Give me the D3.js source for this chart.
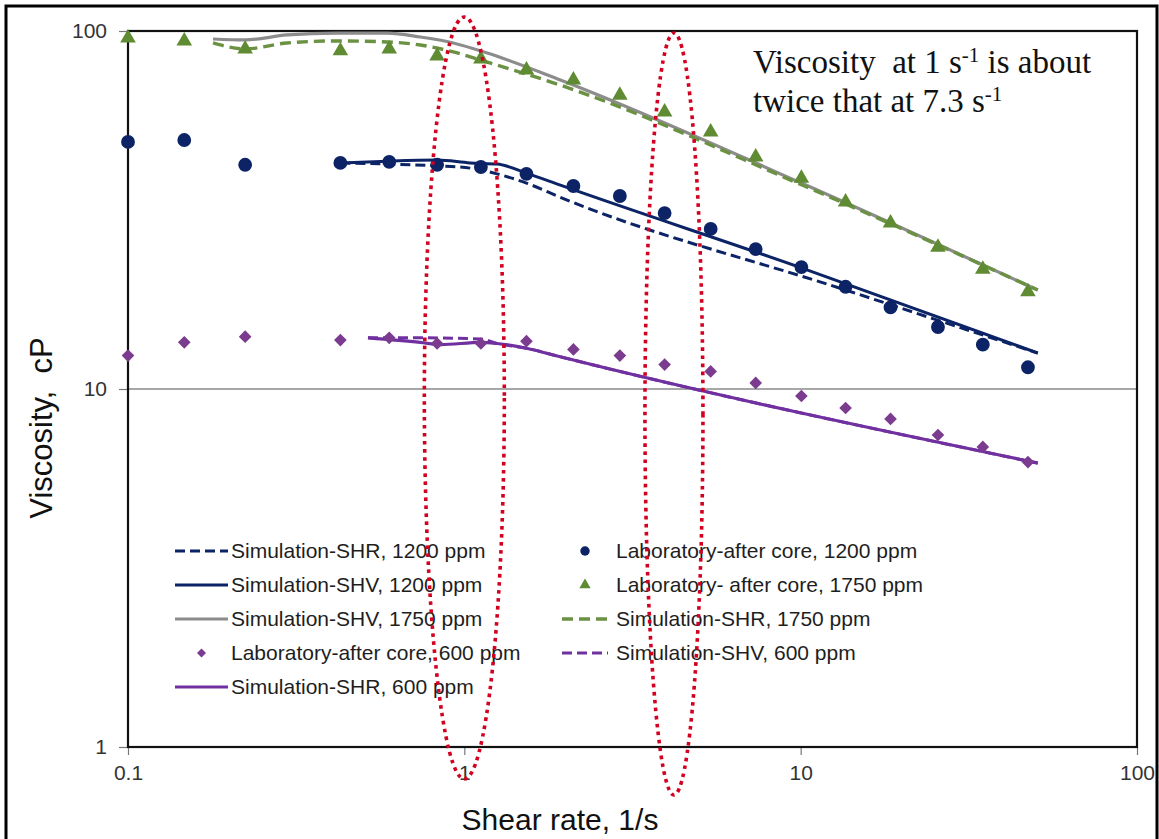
<!DOCTYPE html>
<html><head><meta charset="utf-8">
<script src="https://cdn.jsdelivr.net/npm/d3@7"></script>
<style>
html,body{margin:0;padding:0;background:#fff;}
svg{display:block;}
text.pre{white-space:pre;}
</style></head><body>
<svg id="chart" width="1159" height="839"></svg>
<script>
// ---- Laboratory measurements (after core), shear rate in 1/s, viscosity in cP ----
const labShearRate = [0.1, 0.147, 0.223, 0.428, 0.598, 0.83, 1.12, 1.53, 2.11, 2.9, 3.94, 5.4, 7.35, 10.05, 13.6, 18.5, 25.6, 34.8, 47.4];
const lab1200 = [49.0, 49.6, 42.3, 42.8, 43.1, 42.3, 41.7, 39.9, 36.9, 34.6, 31.0, 28.0, 24.6, 21.9, 19.3, 16.9, 14.9, 13.3, 11.5];
const lab1750 = [95.6, 93.8, 89.1, 88.0, 89.1, 85.1, 83.5, 77.8, 73.0, 66.2, 59.4, 52.2, 44.5, 38.8, 33.3, 29.1, 24.9, 21.6, 18.7];
const lab600  = [12.4, 13.5, 14.0, 13.7, 13.9, 13.4, 13.4, 13.6, 12.9, 12.4, 11.7, 11.2, 10.4, 9.56, 8.85, 8.25, 7.44, 6.89, 6.25];

// ---- Simulated viscosity curves ----
const sim1750Rate = [0.179, 0.223, 0.297, 0.419, 0.59, 0.74, 0.927, 1.17, 1.93, 10.05, 50.7];
const shv1750 = [95.0, 94.4, 97.5, 98.7, 98.7, 96.2, 92.6, 86.8, 73.0, 37.6, 18.9];
const shr1750 = [92.6, 89.1, 92.6, 93.8, 93.2, 91.4, 87.4, 81.9, 70.6, 37.2, 18.9];

const shv1200Rate = [0.428, 0.59, 0.832, 1.04, 1.25, 1.53, 1.93, 10.05, 50.7];
const shv1200 = [42.8, 43.3, 43.6, 42.8, 42.5, 40.1, 37.1, 21.8, 12.6];
const shr1200Rate = [0.428, 0.59, 0.832, 1.04, 1.25, 1.53, 1.93, 13.6, 50.7];
const shr1200 = [42.8, 42.5, 42.0, 41.4, 39.9, 37.6, 34.3, 18.9, 12.6];

const shr600Rate = [0.517, 0.74, 0.85, 1.12, 1.25, 1.53, 1.93, 50.7];
const shr600 = [13.9, 13.5, 13.3, 13.5, 13.4, 13.0, 12.3, 6.21];
const shv600Rate = [0.517, 0.74, 1.12, 1.25, 1.53, 1.93, 50.7];
const shv600 = [13.9, 13.9, 13.8, 13.4, 13.0, 12.3, 6.21];

// ---- Axis ticks ----
const xTicks = [0.1, 1, 10, 100];
const yTicks = [1, 10, 100];
const xTickLabels = ["0.1", "1", "10", "100"];
const yTickLabels = ["1", "10", "100"];

// Shear rates highlighted with dotted ellipses
const highlightRates = [1.0, 4.2];

// ---- Layout ----
const W = 1159, H = 839;
const plot = {left: 128, right: 1137, top: 31, bottom: 747};
const svg = d3.select("#chart");
const SANS = "'Liberation Sans', Arial, sans-serif";
const SERIF = "'Liberation Serif', 'Times New Roman', serif";

const x = d3.scaleLog().domain([0.1, 100]).range([plot.left, plot.right]);
const y = d3.scaleLog().domain([1, 100]).range([plot.bottom, plot.top]);

const C = {
  navy: "#0c2466",
  green: "#5f8b32",
  greenDash: "#6b9142",
  gray: "#8c8c8c",
  purple: "#7030a0",
  diamond: "#7b3b8f",
  red: "#d3001f"
};

// outer frame
svg.append("path")
  .attr("d", `M6,${H} L6,6 L1157,6 L1157,${H}`)
  .attr("fill", "none").attr("stroke", "#000").attr("stroke-width", 3);

// gridline at 10 cP
svg.append("g").selectAll("line").data(yTicks.filter(v => v !== 1 && v !== 100)).join("line")
  .attr("x1", plot.left).attr("x2", plot.right)
  .attr("y1", d => y(d)).attr("y2", d => y(d))
  .attr("stroke", "#8a8a8a").attr("stroke-width", 1.5);

// axes
const xAxis = d3.axisBottom(x).tickValues(xTicks).tickSize(8).tickPadding(10)
  .tickFormat((d, i) => xTickLabels[i]);
const gx = svg.append("g").attr("transform", `translate(0,${plot.bottom})`).call(xAxis);
gx.select(".domain").remove();
gx.selectAll(".tick line").attr("stroke", "#777").attr("stroke-width", 1.2);
gx.selectAll(".tick text").attr("font-family", SANS).attr("font-size", 21).attr("fill", "#333");

const yAxis = d3.axisLeft(y).tickValues(yTicks).tickSize(9).tickPadding(12)
  .tickFormat((d, i) => yTickLabels[i]);
const gy = svg.append("g").attr("transform", `translate(${plot.left},0)`).call(yAxis);
gy.select(".domain").remove();
gy.selectAll(".tick line").attr("stroke", "#777").attr("stroke-width", 1.2);
gy.selectAll(".tick text").attr("font-family", SANS).attr("font-size", 21).attr("fill", "#333");

// plot frame
svg.append("rect")
  .attr("x", plot.left).attr("y", plot.top)
  .attr("width", plot.right - plot.left).attr("height", plot.bottom - plot.top)
  .attr("fill", "none").attr("stroke", "#111").attr("stroke-width", 2.2);

// ---- Series definitions ----
const lineSeries = [
  {name: "Simulation-SHV, 1750 ppm", xs: sim1750Rate, ys: shv1750, color: C.gray, dash: null, width: 3.2},
  {name: "Simulation-SHR, 1750 ppm", xs: sim1750Rate, ys: shr1750, color: C.greenDash, dash: "11 6", width: 3.4},
  {name: "Simulation-SHV, 1200 ppm", xs: shv1200Rate, ys: shv1200, color: C.navy, dash: null, width: 3},
  {name: "Simulation-SHR, 1200 ppm", xs: shr1200Rate, ys: shr1200, color: C.navy, dash: "10 5", width: 3},
  {name: "Simulation-SHR, 600 ppm", xs: shr600Rate, ys: shr600, color: C.purple, dash: null, width: 3.2},
  {name: "Simulation-SHV, 600 ppm", xs: shv600Rate, ys: shv600, color: C.purple, dash: "10 5", width: 3}
];

const line = d3.line().x(d => x(d[0])).y(d => y(d[1])).curve(d3.curveMonotoneX);

svg.append("g").selectAll("path").data(lineSeries).join("path")
  .attr("d", s => line(s.xs.map((v, i) => [v, s.ys[i]])))
  .attr("fill", "none")
  .attr("stroke", s => s.color)
  .attr("stroke-width", s => s.width)
  .attr("stroke-dasharray", s => s.dash)
  .attr("stroke-linejoin", "round");

const markerSeries = [
  {name: "Laboratory-after core, 1200 ppm", ys: lab1200, color: C.navy, shape: "circle"},
  {name: "Laboratory- after core, 1750 ppm", ys: lab1750, color: C.green, shape: "triangle"},
  {name: "Laboratory-after core, 600 ppm", ys: lab600, color: C.diamond, shape: "diamond"}
];

// symbol path for a marker shape; diamonds are rotated squares
function markerPath(shape, big) {
  if (shape === "circle") return d3.symbol().type(d3.symbolCircle).size(big ? 150 : 70)();
  if (shape === "triangle") return d3.symbol().type(d3.symbolTriangle).size(big ? 105 : 55)();
  return d3.symbol().type(d3.symbolSquare).size(big ? 80 : 40)();
}

markerSeries.forEach(s => {
  svg.append("g").selectAll("path").data(labShearRate.map((v, i) => [v, s.ys[i]])).join("path")
    .attr("d", markerPath(s.shape, true))
    .attr("transform", d => `translate(${x(d[0])},${y(d[1])})` + (s.shape === "diamond" ? " rotate(45)" : ""))
    .attr("fill", s.color);
});

// ---- Legend ----
const legendRows = [551, 585, 619, 653, 687];
const legendLeft = [
  {type: "line", series: lineSeries[3]},
  {type: "line", series: lineSeries[2]},
  {type: "line", series: lineSeries[0]},
  {type: "marker", series: markerSeries[2]},
  {type: "line", series: lineSeries[4]}
];
const legendRight = [
  {type: "marker", series: markerSeries[0]},
  {type: "marker", series: markerSeries[1]},
  {type: "line", series: lineSeries[1]},
  {type: "line", series: lineSeries[5]}
];

function drawLegend(items, sampleX0, sampleX1, textX) {
  const g = svg.append("g");
  items.forEach((it, i) => {
    const cy = legendRows[i];
    const s = it.series;
    if (it.type === "line") {
      g.append("line").attr("x1", sampleX0).attr("x2", sampleX1).attr("y1", cy).attr("y2", cy)
        .attr("stroke", s.color).attr("stroke-width", s.width)
        .attr("stroke-dasharray", s.dash);
    } else {
      const mx = (sampleX0 + sampleX1) / 2;
      g.append("path").attr("d", markerPath(s.shape, false))
        .attr("transform", `translate(${mx},${cy})` + (s.shape === "diamond" ? " rotate(45)" : ""))
        .attr("fill", s.color);
    }
    g.append("text").attr("x", textX).attr("y", cy).attr("dy", "0.35em")
      .attr("font-family", SANS).attr("font-size", 21).attr("fill", "#1e1e1e")
      .text(s.name);
  });
}
drawLegend(legendLeft, 175, 228, 231);
drawLegend(legendRight, 562, 608, 616);

// ---- Axis titles ----
svg.append("text")
  .attr("x", 560).attr("y", 830).attr("text-anchor", "middle")
  .attr("font-family", SANS).attr("font-size", 30).attr("fill", "#111")
  .text("Shear rate, 1/s");

svg.append("text").attr("class", "pre").attr("xml:space", "preserve")
  .attr("transform", "translate(52,428) rotate(-90)").attr("text-anchor", "middle")
  .attr("font-family", SANS).attr("font-size", 31).attr("fill", "#111")
  .text("Viscosity,  cP");

// ---- Annotation ----
const note = svg.append("g").attr("font-family", SERIF).attr("fill", "#111");
const t1 = note.append("text").attr("class", "pre").attr("xml:space", "preserve")
  .attr("x", 753).attr("y", 73).attr("font-size", 33);
t1.append("tspan").text("Viscosity  at 1 s");
t1.append("tspan").attr("font-size", 21).attr("dy", -11).text("-1");
t1.append("tspan").attr("dy", 11).text(" is about");
const t2 = note.append("text").attr("class", "pre").attr("xml:space", "preserve")
  .attr("x", 753).attr("y", 112).attr("font-size", 33);
t2.append("tspan").text("twice that at 7.3 s");
t2.append("tspan").attr("font-size", 21).attr("dy", -11).text("-1");

// ---- Dotted ellipses highlighting the compared shear rates ----
const ellipseShape = [
  {top: 17, bottom: 779, rx: 40},
  {top: 33, bottom: 795, rx: 29}
];
svg.append("g").selectAll("ellipse").data(highlightRates).join("ellipse")
  .attr("cx", d => x(d))
  .attr("cy", (d, i) => (ellipseShape[i].top + ellipseShape[i].bottom) / 2)
  .attr("rx", (d, i) => ellipseShape[i].rx)
  .attr("ry", (d, i) => (ellipseShape[i].bottom - ellipseShape[i].top) / 2)
  .attr("fill", "none")
  .attr("stroke", C.red)
  .attr("stroke-width", 3.6)
  .attr("stroke-dasharray", "3.6 4.4");
</script>
</body></html>
